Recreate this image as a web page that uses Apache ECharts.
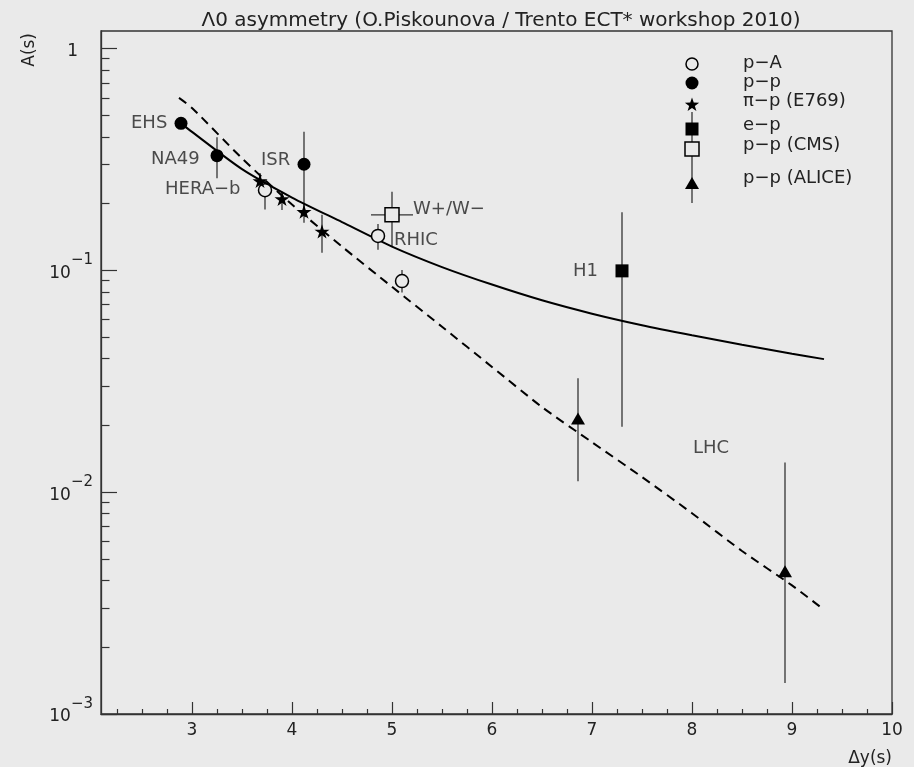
<!DOCTYPE html>
<html>
<head>
<meta charset="utf-8">
<title>Lambda0 asymmetry</title>
<script src="https://cdn.jsdelivr.net/npm/echarts@6/dist/echarts.min.js"></script>
<style>
html, body { margin: 0; padding: 0; background: #eaeaea; }
#chart { width: 914px; height: 767px; }
</style>
</head>
<body>
<div id="chart"></div>
<script>
// values, x = dy(s), y = A(s), error bars as low / high
var pA_x  = [3.73, 4.86, 5.10];
var pA_y  = [0.230, 0.143, 0.0895];
var pA_lo = [0.188, 0.124, 0.0794];
var pA_hi = [0.255, 0.162, 0.1003];

var pp_x  = [2.89, 3.25, 4.12];
var pp_y  = [0.46, 0.329, 0.301];
var pp_lo = [0.46, 0.26, 0.19];
var pp_hi = [0.46, 0.398, 0.422];

var pip_x  = [3.68, 3.90, 4.12, 4.30];
var pip_y  = [0.253, 0.210, 0.184, 0.150];
var pip_lo = [0.24, 0.187, 0.164, 0.12];
var pip_hi = [0.275, 0.223, 0.199, 0.178];

var ep_x  = [7.30];
var ep_y  = [0.0995];
var ep_lo = [0.0197];
var ep_hi = [0.183];

var cms_x   = [5.0];
var cms_y   = [0.178];
var cms_lo  = [0.128];
var cms_hi  = [0.226];
var cms_xlo = [4.79];
var cms_xhi = [5.21];

var alice_x  = [6.86, 8.93];
var alice_y  = [0.0215, 0.0044];
var alice_lo = [0.0112, 0.00138];
var alice_hi = [0.0326, 0.0136];

// model curves
var solidX = [2.89, 3.0, 3.5, 4.0, 4.5, 5.0, 5.5, 6.0, 6.5, 7.0, 7.5, 8.0, 8.5, 9.0, 9.32];
var solidY = [0.46, 0.421, 0.286, 0.213, 0.165, 0.128, 0.1035, 0.0863, 0.0733, 0.0638, 0.0566, 0.051, 0.0462, 0.0421, 0.0398];
var dashX = [2.87, 3.0, 3.5, 4.0, 4.5, 5.0, 5.5, 6.0, 6.5, 7.0, 7.5, 8.0, 8.5, 9.0, 9.32];
var dashY = [0.599, 0.54, 0.32, 0.198, 0.128, 0.0843, 0.0557, 0.0367, 0.0242, 0.0168, 0.0117, 0.00804, 0.00543, 0.0038, 0.00295];

// text written inside the frame
var annoText = ['EHS', 'NA49', 'ISR', 'HERA\u2212b', 'W+/W\u2212', 'RHIC', 'H1', 'LHC'];
var annoX = [2.39, 2.59, 3.69, 2.73, 5.21, 5.02, 6.81, 8.01];
var annoY = [0.46, 0.317, 0.314, 0.232, 0.1885, 0.137, 0.0991, 0.0157];

var xMajor = [3, 4, 5, 6, 7, 8, 9, 10];
var xMinor = [2.25, 2.5, 2.75, 3.25, 3.5, 3.75, 4.25, 4.5, 4.75, 5.25, 5.5, 5.75,
              6.25, 6.5, 6.75, 7.25, 7.5, 7.75, 8.25, 8.5, 8.75, 9.25, 9.5, 9.75];
var yMajor = [0.001, 0.01, 0.1, 1];
var yMinor = [0.002, 0.003, 0.004, 0.005, 0.006, 0.007, 0.008, 0.009,
              0.02, 0.03, 0.04, 0.05, 0.06, 0.07, 0.08, 0.09,
              0.2, 0.3, 0.4, 0.5, 0.6, 0.7, 0.8, 0.9];

var BG = '#eaeaea';
var FONT = 'DejaVu Sans';

function pts(xs, ys) {
	var out = [];
	for (var i = 0; i < xs.length; i++) out.push([xs[i], ys[i]]);
	return out;
}

// rows for the error bar series: x, y, low, high, xlow, xhigh
function bars(xs, ys, lo, hi, xlo, xhi) {
	var out = [];
	for (var i = 0; i < xs.length; i++) {
		out.push([xs[i], ys[i], lo[i], hi[i], xlo ? xlo[i] : xs[i], xhi ? xhi[i] : xs[i]]);
	}
	return out;
}

var errRows = [].concat(
	bars(pA_x, pA_y, pA_lo, pA_hi),
	bars(pp_x, pp_y, pp_lo, pp_hi),
	bars(pip_x, pip_y, pip_lo, pip_hi),
	bars(ep_x, ep_y, ep_lo, ep_hi),
	bars(cms_x, cms_y, cms_lo, cms_hi, cms_xlo, cms_xhi),
	bars(alice_x, alice_y, alice_lo, alice_hi)
);

var annoData = [];
for (var i = 0; i < annoText.length; i++) {
	annoData.push({ value: [annoX[i], annoY[i]], label: { formatter: annoText[i] } });
}

var STAR = 'path://M50,0 L61,35 L98,35 L68,57 L79,91 L50,70 L21,91 L32,57 L2,35 L39,35 Z';

function starPoly(cx, cy, R, r) {
	var p = [];
	for (var k = 0; k < 10; k++) {
		var a = -Math.PI / 2 + k * Math.PI / 5;
		var rr = k % 2 ? r : R;
		p.push([cx + rr * Math.cos(a), cy + rr * Math.sin(a)]);
	}
	return p;
}

var chart = echarts.init(document.getElementById('chart'));

var axisLine = { show: true, onZero: false, lineStyle: { color: '#333', width: 1.3 } };

var option = {
	animation: false,
	backgroundColor: BG,
	title: {
		text: '\u039B0 asymmetry (O.Piskounova / Trento ECT* workshop 2010)',
		left: 496,
		textAlign: 'center',
		top: 6,
		textStyle: { fontFamily: FONT, fontSize: 20, fontWeight: 'normal', color: '#222' }
	},
	grid: {
		left: 101, right: 22, top: 31, bottom: 53,
		show: true, borderColor: '#333', borderWidth: 1.3
	},
	xAxis: [{
		type: 'value', min: 2.09, max: 10, position: 'bottom',
		axisLine: axisLine,
		axisTick: { show: true, inside: true, length: 12, customValues: xMajor, lineStyle: { color: '#333', width: 1.2 } },
		axisLabel: { customValues: xMajor, margin: 8, fontSize: 17, fontFamily: FONT, color: '#222' },
		splitLine: { show: false },
		name: '\u0394y(s)', nameLocation: 'end', nameGap: 0,
		nameTextStyle: { fontFamily: FONT, fontSize: 17, color: '#222', align: 'right', verticalAlign: 'top', padding: [36, 0, 0, 0] }
	}, {
		type: 'value', min: 2.09, max: 10, position: 'bottom', offset: 0,
		axisLine: { show: false, onZero: false },
		axisTick: { show: true, inside: true, length: 5, customValues: xMinor, lineStyle: { color: '#333', width: 1.2 } },
		axisLabel: { show: false },
		splitLine: { show: false }
	}],
	yAxis: [{
		type: 'log', logBase: 10, min: 0.001, max: 1.2, position: 'left',
		axisLine: axisLine,
		axisTick: { show: true, inside: true, length: 16, customValues: yMajor, lineStyle: { color: '#333', width: 1.2 } },
		axisLabel: {
			customValues: yMajor, margin: 8,
			formatter: function (v) {
				var e = Math.round(Math.log(v) / Math.LN10);
				if (e === 0) return '{b|1}{p|}';
				return '{b|10}{s|\u2212' + (-e) + '}';
			},
			rich: {
				b: { fontFamily: FONT, fontSize: 17, color: '#222', padding: [6, 0, 0, 0] },
				s: { fontFamily: FONT, fontSize: 15, color: '#222', padding: [0, 0, 20, 0] },
				p: { width: 15 }
			}
		},
		splitLine: { show: false }
	}, {
		type: 'log', logBase: 10, min: 0.001, max: 1.2, position: 'left', offset: 0,
		axisLine: { show: false, onZero: false },
		axisTick: { show: true, inside: true, length: 8.5, customValues: yMinor, lineStyle: { color: '#333', width: 1.2 } },
		axisLabel: { show: false },
		splitLine: { show: false }
	}],
	series: [{
		name: 'errors',
		type: 'custom',
		z: 1,
		data: errRows,
		encode: { x: [0, 4, 5], y: [1, 2, 3] },
		renderItem: function (params, api) {
			var c = api.coord([api.value(0), api.value(1)]);
			var lo = api.coord([api.value(0), api.value(2)]);
			var hi = api.coord([api.value(0), api.value(3)]);
			var l = api.coord([api.value(4), api.value(1)]);
			var r = api.coord([api.value(5), api.value(1)]);
			var st = { stroke: '#333', lineWidth: 1.3 };
			return {
				type: 'group',
				children: [
					{ type: 'line', shape: { x1: c[0], y1: lo[1], x2: c[0], y2: hi[1] }, style: st },
					{ type: 'line', shape: { x1: l[0], y1: c[1], x2: r[0], y2: c[1] }, style: st }
				]
			};
		}
	}, {
		name: 'model', type: 'line', z: 2, data: pts(solidX, solidY),
		symbol: 'none', smooth: 0.25,
		lineStyle: { color: '#000', width: 2 }
	}, {
		name: 'model dashed', type: 'line', z: 2, data: pts(dashX, dashY),
		symbol: 'none', smooth: 0.25,
		lineStyle: { color: '#000', width: 2, type: [9, 6] }
	}, {
		name: 'p-A', type: 'scatter', z: 3, data: pts(pA_x, pA_y),
		symbol: 'circle', symbolSize: 13,
		itemStyle: { color: BG, borderColor: '#000', borderWidth: 1.5, opacity: 1 }
	}, {
		name: 'p-p', type: 'scatter', z: 3, data: pts(pp_x, pp_y),
		symbol: 'circle', symbolSize: 13,
		itemStyle: { color: '#000', opacity: 1 }
	}, {
		name: 'pi-p (E769)', type: 'scatter', z: 3, data: pts(pip_x, pip_y),
		symbol: STAR, symbolSize: 15, symbolKeepAspect: true,
		itemStyle: { color: '#000', opacity: 1 }
	}, {
		name: 'e-p', type: 'scatter', z: 3, data: pts(ep_x, ep_y),
		symbol: 'rect', symbolSize: 13,
		itemStyle: { color: '#000', opacity: 1 }
	}, {
		name: 'p-p (CMS)', type: 'scatter', z: 3, data: pts(cms_x, cms_y),
		symbol: 'rect', symbolSize: 14,
		itemStyle: { color: BG, borderColor: '#000', borderWidth: 1.5, opacity: 1 }
	}, {
		name: 'p-p (ALICE)', type: 'scatter', z: 3, data: pts(alice_x, alice_y),
		symbol: 'triangle', symbolSize: [14, 12],
		itemStyle: { color: '#000', opacity: 1 }
	}, {
		name: 'labels', type: 'scatter', z: 4, data: annoData,
		symbolSize: 0, silent: true,
		label: { show: true, position: 'right', distance: 0, fontFamily: FONT, fontSize: 18, color: '#222' }
	}],
	graphic: [
		{ type: 'text', x: 30, y: 33, rotation: Math.PI / 2,
		  style: { text: 'A(s)', font: '17px "DejaVu Sans"', fill: '#222', align: 'right', verticalAlign: 'middle' } },
		// legend, drawn by hand to follow the uneven spacing of the original
		{ type: 'line', shape: { x1: 692, y1: 112, x2: 692, y2: 203 }, style: { stroke: '#333', lineWidth: 1.3 } },
		{ type: 'circle', shape: { cx: 692, cy: 64, r: 6 }, style: { fill: BG, stroke: '#000', lineWidth: 1.5 } },
		{ type: 'circle', shape: { cx: 692, cy: 83, r: 6.5 }, style: { fill: '#000' } },
		{ type: 'polygon', shape: { points: starPoly(692, 105, 7.5, 3) }, style: { fill: '#000' } },
		{ type: 'rect', shape: { x: 685.5, y: 122.5, width: 13, height: 13 }, style: { fill: '#000' } },
		{ type: 'rect', shape: { x: 685, y: 142, width: 14, height: 14 }, style: { fill: BG, stroke: '#000', lineWidth: 1.5 } },
		{ type: 'polygon', shape: { points: [[692, 177], [699, 189], [685, 189]] }, style: { fill: '#000' } },
		{ type: 'text', x: 743, y: 63, style: { text: 'p\u2212A', font: '18px "DejaVu Sans"', fill: '#222', verticalAlign: 'middle' } },
		{ type: 'text', x: 743, y: 82, style: { text: 'p\u2212p', font: '18px "DejaVu Sans"', fill: '#222', verticalAlign: 'middle' } },
		{ type: 'text', x: 743, y: 101, style: { text: '\u03C0\u2212p (E769)', font: '18px "DejaVu Sans"', fill: '#222', verticalAlign: 'middle' } },
		{ type: 'text', x: 743, y: 125, style: { text: 'e\u2212p', font: '18px "DejaVu Sans"', fill: '#222', verticalAlign: 'middle' } },
		{ type: 'text', x: 743, y: 145, style: { text: 'p\u2212p (CMS)', font: '18px "DejaVu Sans"', fill: '#222', verticalAlign: 'middle' } },
		{ type: 'text', x: 743, y: 178, style: { text: 'p\u2212p (ALICE)', font: '18px "DejaVu Sans"', fill: '#222', verticalAlign: 'middle' } }
	]
};

chart.setOption(option);
</script>
</body>
</html>
